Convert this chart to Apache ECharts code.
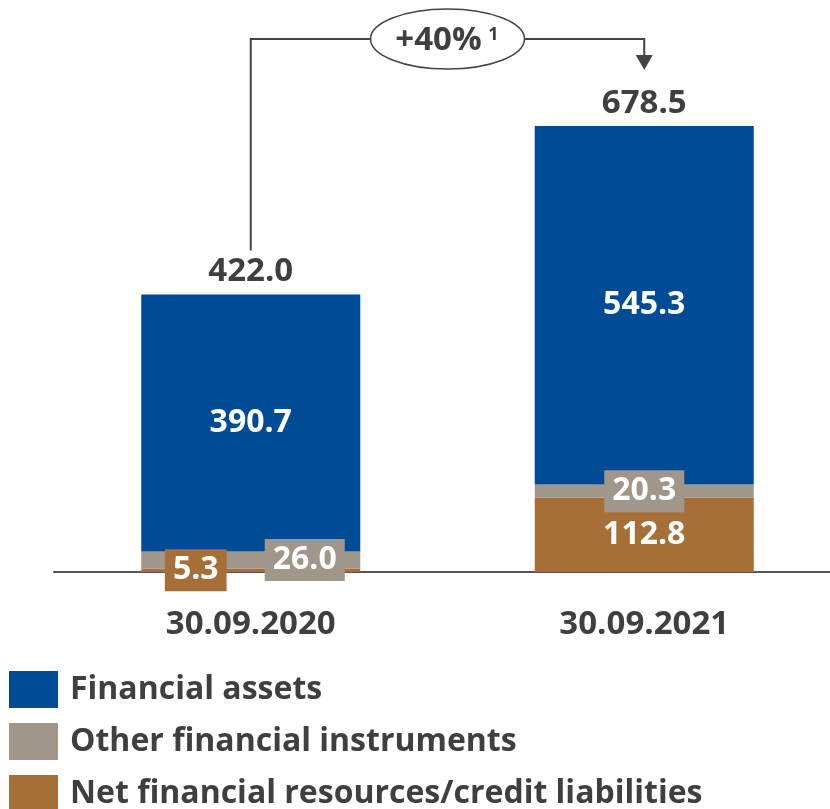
<!DOCTYPE html>
<html>
<head>
<meta charset="utf-8">
<script src="https://cdn.jsdelivr.net/npm/echarts@6/dist/echarts.min.js"></script>
<style>
  html, body { margin: 0; padding: 0; background: #ffffff; }
  #chart { width: 830px; height: 809px; }
</style>
</head>
<body>
<div id="chart"></div>
<script>
// Balance components per reporting date (EUR million)
const categories = ['30.09.2020', '30.09.2021'];
const financialAssets = [390.7, 545.3];
const otherInstruments = [26.0, 20.3];
const netResources = [5.3, 112.8];
const totals = [422.0, 678.5];
const growthText = '+40%';
const growthFootnote = '1';

const seriesNames = [
  'Financial assets',
  'Other financial instruments',
  'Net financial resources/credit liabilities'
];

const BLUE = '#004b96';
const GREY = '#a0968a';
const BROWN = '#a66f37';
const TEXT = '#3f3f3f';
const FONT = '"Open Sans", "DejaVu Sans", sans-serif';

const fmt = p => Number(p.value).toFixed(1);
const valueFont = { fontFamily: FONT, fontWeight: 'bold', fontSize: 32, color: '#ffffff', formatter: fmt };
const boxed = (bg, dx) => ({
  show: true,
  position: 'inside',
  offset: [dx, 0],
  backgroundColor: bg,
  padding: [6, 8, 5, 8],
  lineHeight: 31,
  ...valueFont
});

const chart = echarts.init(document.getElementById('chart'), null, { renderer: 'canvas' });

chart.setOption({
  animation: false,
  backgroundColor: '#ffffff',
  grid: { left: 54, width: 787, top: 46, bottom: 237, containLabel: false, outerBoundsMode: 'none' },
  legend: {
    orient: 'vertical',
    left: 9,
    top: 671,
    height: 180,
    padding: 0,
    icon: 'rect',
    itemWidth: 49,
    itemHeight: 37,
    itemGap: 15,
    selectedMode: false,
    data: seriesNames,
    textStyle: { fontFamily: FONT, fontWeight: 'bold', fontSize: 32, color: TEXT, padding: [3, 0, 0, 7] }
  },
  xAxis: {
    type: 'category',
    data: categories,
    axisLine: { show: true, lineStyle: { color: '#555555', width: 2 } },
    axisTick: { show: false },
    axisLabel: { margin: 36, fontFamily: FONT, fontWeight: 'bold', fontSize: 33, color: TEXT }
  },
  yAxis: {
    type: 'value',
    min: 0,
    max: 800,
    show: false,
    splitLine: { show: false }
  },
  series: [
    {
      name: seriesNames[2],
      type: 'bar',
      stack: 'total',
      barWidth: 219,
      barGap: '-100%',
      itemStyle: { color: BROWN },
      data: netResources.map((v, i) => ({
        value: v,
        label: i === 0 ? boxed(BROWN, -55) : { show: true, position: 'inside', ...valueFont }
      }))
    },
    {
      name: seriesNames[1],
      type: 'bar',
      stack: 'total',
      barWidth: 219,
      itemStyle: { color: GREY },
      data: otherInstruments.map((v, i) => ({
        value: v,
        label: boxed(GREY, i === 0 ? 54 : 0)
      }))
    },
    {
      name: seriesNames[0],
      type: 'bar',
      stack: 'total',
      barWidth: 219,
      itemStyle: { color: BLUE },
      label: { show: true, position: 'inside', ...valueFont },
      data: financialAssets
    },
    {
      name: 'Total',
      type: 'bar',
      barWidth: 219,
      silent: true,
      z: 1,
      itemStyle: { color: 'rgba(0,0,0,0)' },
      label: {
        show: true,
        position: 'top',
        distance: 6,
        formatter: fmt,
        fontFamily: FONT,
        fontWeight: 'bold',
        fontSize: 33,
        color: TEXT
      },
      data: totals
    }
  ]
});

// Growth bracket from the first total to the second, with an ellipse badge
const p1 = chart.convertToPixel({ seriesIndex: 3 }, [0, totals[0]]);
const p2 = chart.convertToPixel({ seriesIndex: 3 }, [1, totals[1]]);
const lineY = 39;
const cx = (p1[0] + p2[0]) / 2;
const rx = 77, ry = 30;
const stroke = { stroke: '#444444', lineWidth: 2, fill: null };
const tipY = p2[1] - 56;

chart.setOption({
  graphic: [
    {
      type: 'polyline',
      shape: { points: [[p1[0], p1[1] - 44], [p1[0], lineY], [cx - rx, lineY]] },
      style: stroke
    },
    {
      type: 'polyline',
      shape: { points: [[cx + rx, lineY], [p2[0], lineY], [p2[0], tipY - 14]] },
      style: stroke
    },
    {
      type: 'polygon',
      shape: { points: [[p2[0] - 8.5, tipY - 15], [p2[0] + 8.5, tipY - 15], [p2[0], tipY]] },
      style: { fill: '#444444' }
    },
    {
      type: 'ellipse',
      shape: { cx: cx, cy: lineY, rx: rx, ry: ry },
      style: { stroke: '#444444', lineWidth: 1.5, fill: '#ffffff' }
    },
    {
      type: 'text',
      x: cx - 9,
      y: lineY + 2,
      style: {
        text: growthText,
        fontFamily: FONT,
        fontWeight: 'bold',
        fontSize: 33,
        fill: TEXT,
        align: 'center',
        verticalAlign: 'middle'
      }
    },
    {
      type: 'text',
      x: cx + 46,
      y: lineY - 4,
      style: {
        text: growthFootnote,
        fontFamily: FONT,
        fontWeight: 'bold',
        fontSize: 18,
        fill: TEXT,
        align: 'center',
        verticalAlign: 'middle'
      }
    }
  ]
});
</script>
</body>
</html>
